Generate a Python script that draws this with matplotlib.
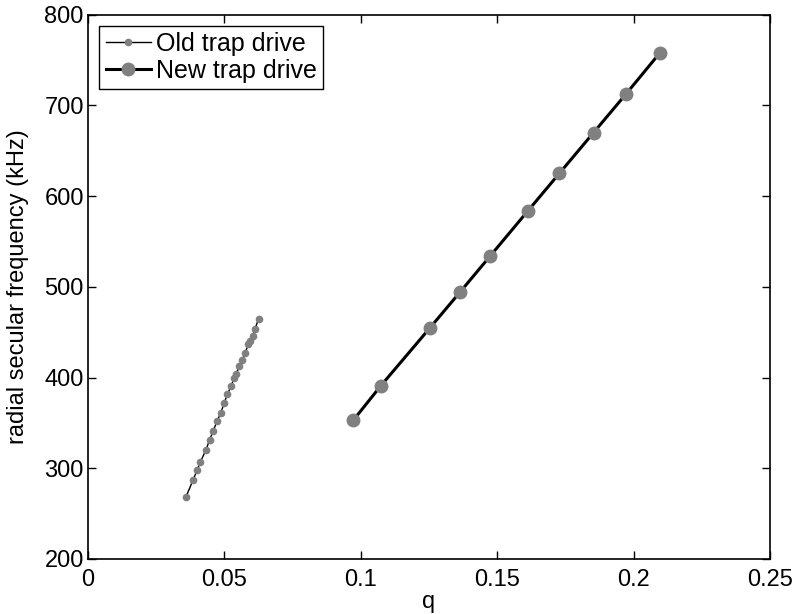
import matplotlib.pyplot as plt

plt.rcParams['font.family'] = ['Liberation Sans', 'DejaVu Sans']

# old trap drive (q, radial secular frequency in kHz)
q_old = [0.0359, 0.0385, 0.0400, 0.0412, 0.0432, 0.0446, 0.0459, 0.0473,
         0.0487, 0.0499, 0.0511, 0.0525, 0.0536, 0.0543, 0.0555, 0.0566,
         0.0576, 0.0588, 0.0594, 0.0603, 0.0612, 0.0625]
f_old = [268.4, 287.0, 298.0, 307.0, 320.0, 331.5, 341.4, 351.8,
         361.3, 371.8, 381.6, 391.0, 399.9, 404.0, 412.4, 419.4,
         427.4, 436.7, 440.3, 446.2, 453.5, 464.6]

# new trap drive
q_new = [0.0973, 0.1074, 0.1252, 0.1365, 0.1475, 0.1613, 0.1728, 0.1853, 0.1972, 0.2095]
f_new = [353.2, 391.2, 454.3, 494.7, 534.3, 584.0, 625.2, 670.0, 712.6, 757.5]

fig = plt.figure(figsize=(7.95, 6.14), dpi=100)
ax = fig.add_axes([0.1107, 0.0896, 0.8579, 0.8864])

ax.plot(q_old, f_old, '-', color='black', lw=1.0, marker='o', ms=4.5,
        mfc='#808080', mec='#808080', label='Old trap drive')
ax.plot(q_new, f_new, '-', color='black', lw=2.2, marker='o', ms=9,
        mfc='#808080', mec='#808080', label='New trap drive')

ax.set_xlim(0, 0.25)
ax.set_ylim(200, 800)
ax.set_xticks([0, 0.05, 0.1, 0.15, 0.2, 0.25])
ax.set_xticklabels(['0', '0.05', '0.1', '0.15', '0.2', '0.25'])
ax.set_yticks([200, 300, 400, 500, 600, 700, 800])
ax.tick_params(direction='in', top=True, right=True, length=6, width=1,
               labelsize=17, pad=3)
ax.tick_params(axis='x', pad=7)
for s in ax.spines.values():
    s.set_linewidth(1.2)

ax.set_xlabel('q', fontsize=17, labelpad=0)
ax.set_ylabel('radial secular frequency (kHz)', fontsize=17, labelpad=11)

leg = ax.legend(loc='upper left', fontsize=18, fancybox=False, framealpha=1,
                edgecolor='black', borderaxespad=0.45, handlelength=1.8,
                handletextpad=0.2, borderpad=0.25, labelspacing=0.12)
leg.get_frame().set_linewidth(1.0)

fig.savefig('out.png', dpi=100)
